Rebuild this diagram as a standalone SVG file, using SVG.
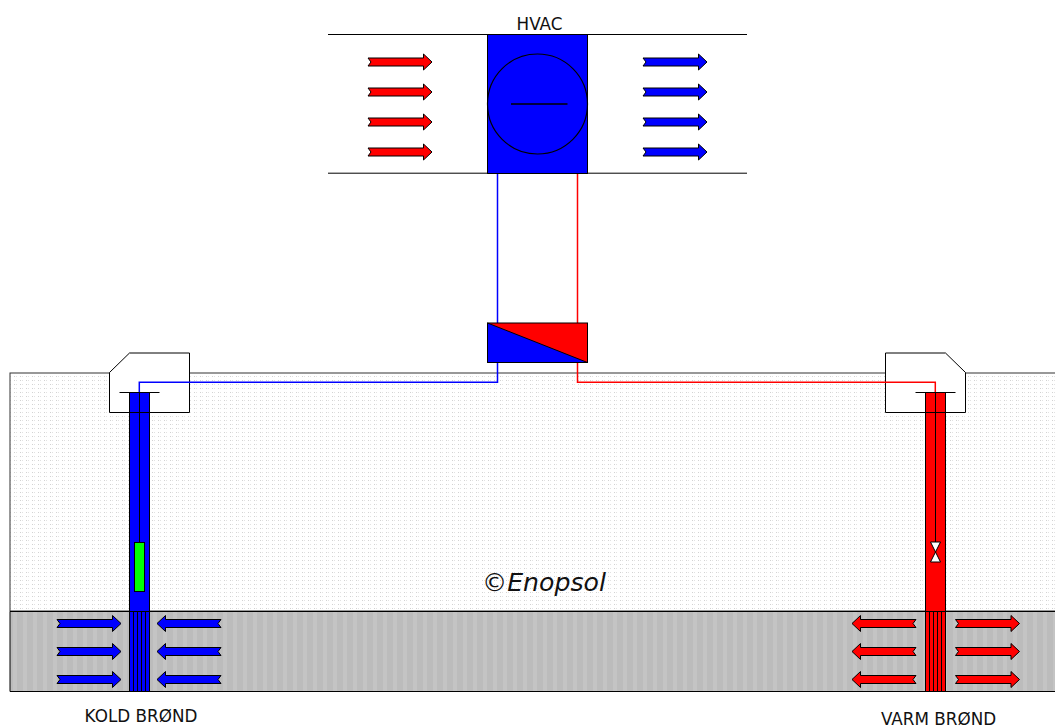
<svg xmlns="http://www.w3.org/2000/svg" width="1055" height="727" viewBox="0 0 1055 727">
<style>
.ln{fill:none;stroke:#000;stroke-width:1}
.a{stroke:#000;stroke-width:1}
.r{fill:#f00}.b{fill:#00f}
.pb{fill:none;stroke:#00f;stroke-width:1.5}
.pr{fill:none;stroke:#f00;stroke-width:1.5}
text{font-family:"DejaVu Sans",Verdana,sans-serif;fill:#111;text-anchor:middle}
.lab{font-size:16.8px}
</style>
<defs>
<pattern id="dots" width="6" height="4" patternUnits="userSpaceOnUse" x="13" y="375">
<rect width="6" height="4" fill="#fff"/>
<rect x="1" y="1" width="1" height="1" fill="#d2d2d2"/>
<rect x="3" y="1" width="1" height="1" fill="#e2e2e2"/>
</pattern>
<pattern id="stripes" width="10" height="8" patternUnits="userSpaceOnUse" x="10" y="611">
<rect width="10" height="8" fill="#bcbcbc"/>
<rect x="3" width="4" height="8" fill="#c4c4c4"/>
</pattern>
<path id="arrow" d="M0,-4 L55.5,-4 L55.5,-8 L64,0 L55.5,8 L55.5,4 L0,4 L3,0 Z"/>
</defs>
<g id="ground">
<rect x="10" y="373" width="1052" height="238" fill="url(#dots)" stroke="#333" stroke-width="1"/>
<rect x="10" y="611.5" width="1052" height="80" fill="url(#stripes)" stroke="none"/>
<path class="ln" d="M10,611.5H1055M10,691.5H1055M10,611.5V691.5"/>
</g>
<g id="duct">
<line class="ln" x1="328" y1="34.5" x2="747" y2="34.5"/>
<line class="ln" x1="328" y1="173.2" x2="747" y2="173.2"/>
</g>
<g id="hvac">
<rect x="487.5" y="34.5" width="100" height="139" fill="#00f" stroke="#000"/>
<circle cx="537.5" cy="104" r="50" fill="none" stroke="#000" stroke-width="1.2"/>
<line x1="511" y1="104" x2="567.5" y2="104" stroke="#000" stroke-width="1.5"/>
<text class="lab" x="539.5" y="30">HVAC</text>
</g>
<g id="air-in">
<use href="#arrow" class="a r" x="368" y="62"/>
<use href="#arrow" class="a r" x="368" y="92"/>
<use href="#arrow" class="a r" x="368" y="122"/>
<use href="#arrow" class="a r" x="368" y="152"/>
</g>
<g id="air-out">
<use href="#arrow" class="a b" x="643" y="62"/>
<use href="#arrow" class="a b" x="643" y="92"/>
<use href="#arrow" class="a b" x="643" y="122"/>
<use href="#arrow" class="a b" x="643" y="152"/>
</g>
<g id="cold-well">
<path d="M129.5,353H189.5V412.5H109.5V372.5Z" fill="#fff" stroke="#000"/>
<line class="ln" x1="119.5" y1="392.5" x2="159.5" y2="392.5"/>
<rect x="129.5" y="392.5" width="20" height="299" fill="#00f" stroke="#000"/>
<path class="ln" d="M129.5,412.5H149.5M139.5,392.5V542M133.5,611.5V691M137.5,611.5V691M141.5,611.5V691M145.5,611.5V691M129.5,611.5H149.5"/>
<rect x="134.5" y="542.5" width="10" height="49" fill="#0f0" stroke="#000"/>
<use href="#arrow" class="a b" x="57" y="623.5"/>
<use href="#arrow" class="a b" x="57" y="651.5"/>
<use href="#arrow" class="a b" x="57" y="679.5"/>
<use href="#arrow" class="a b" transform="translate(221,623.5) scale(-1,1)"/>
<use href="#arrow" class="a b" transform="translate(221,651.5) scale(-1,1)"/>
<use href="#arrow" class="a b" transform="translate(221,679.5) scale(-1,1)"/>
<text class="lab" x="141" y="721.5">KOLD BRØND</text>
</g>
<g id="warm-well">
<path d="M885.5,353H945.5L965.5,372.5V412.5H885.5Z" fill="#fff" stroke="#000"/>
<line class="ln" x1="915.5" y1="392.5" x2="955.5" y2="392.5"/>
<rect x="925.5" y="392.5" width="20" height="299" fill="#f00" stroke="#000"/>
<path class="ln" d="M925.5,412.5H945.5M935.5,392.5V542M929.5,611.5V691M933.5,611.5V691M937.5,611.5V691M941.5,611.5V691M925.5,611.5H945.5"/>
<path d="M930.5,542H940.5L930.5,562H940.5Z" fill="#fff" stroke="#000"/>
<use href="#arrow" class="a r" x="955.5" y="623.5"/>
<use href="#arrow" class="a r" x="955.5" y="651.5"/>
<use href="#arrow" class="a r" x="955.5" y="679.5"/>
<use href="#arrow" class="a r" transform="translate(916,623.5) scale(-1,1)"/>
<use href="#arrow" class="a r" transform="translate(916,651.5) scale(-1,1)"/>
<use href="#arrow" class="a r" transform="translate(916,679.5) scale(-1,1)"/>
<text class="lab" x="938.5" y="725">VARM BRØND</text>
</g>
<g id="connectors">
<path class="pb" d="M497.5,174V382.3H139.3V392"/>
<path class="pr" d="M577.5,174V382.3H935.3V392"/>
</g>
<g id="exchanger">
<rect x="487.5" y="323" width="100" height="39.5" fill="#f00" stroke="#000"/>
<path d="M487.5,323L587.5,362.5H487.5Z" fill="#00f" stroke="#000"/>
</g>
<text x="544" y="591" font-size="25.2" font-style="italic">©Enopsol</text>
</svg>
